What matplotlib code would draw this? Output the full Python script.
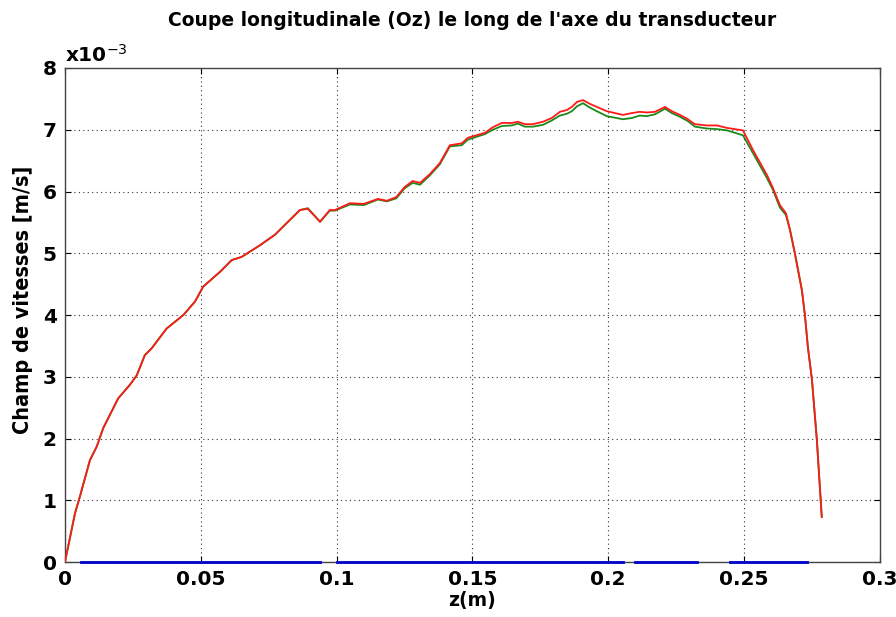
import numpy as np
import matplotlib
matplotlib.use("Agg")
import matplotlib.pyplot as plt

# Data (values in units of 1e-3 m/s)
z = [0, 0.0037, 0.0055, 0.0092, 0.0117, 0.0141, 0.0196, 0.0239, 0.0264, 0.0294,
     0.0319, 0.0374, 0.0436, 0.0479, 0.0509, 0.0571, 0.0614, 0.065, 0.0718,
     0.0773, 0.0828, 0.0865,
     0.0894, 0.0939, 0.0975, 0.0994, 0.1049, 0.110, 0.1152, 0.1185, 0.122, 0.125,
     0.128, 0.1307, 0.1343, 0.138, 0.1417, 0.1461, 0.1483, 0.1546, 0.1575, 0.1608,
     0.1645, 0.1667, 0.1693, 0.1723, 0.176, 0.1792, 0.1822, 0.1848, 0.1866, 0.1885,
     0.1907, 0.1932, 0.1958, 0.1995, 0.2054, 0.2087, 0.2116, 0.2142, 0.2172, 0.2209,
     0.2234, 0.2264, 0.2293, 0.2319, 0.2363, 0.240, 0.2437, 0.2496, 0.2533, 0.2584,
     0.2606, 0.2632, 0.2654, 0.2669, 0.2687, 0.2713, 0.2724, 0.2735, 0.275, 0.276,
     0.2768, 0.2779, 0.2786]

red = [0, 0.79, 1.06, 1.65, 1.87, 2.17, 2.65, 2.87, 3.02, 3.35,
       3.46, 3.78, 4.0, 4.22, 4.46, 4.70, 4.89, 4.94, 5.13,
       5.3, 5.54, 5.7,
       5.72, 5.51, 5.7, 5.7, 5.81, 5.8, 5.88, 5.85, 5.91, 6.07,
       6.17, 6.14, 6.28, 6.46, 6.75, 6.78, 6.87, 6.95, 7.04, 7.11,
       7.11, 7.13, 7.09, 7.09, 7.13, 7.19, 7.29, 7.32, 7.37, 7.45,
       7.48, 7.42, 7.37, 7.30, 7.24, 7.27, 7.29, 7.28, 7.29, 7.37,
       7.30, 7.24, 7.17, 7.09, 7.07, 7.07, 7.03, 6.99, 6.67, 6.27,
       6.06, 5.78, 5.65, 5.38, 5.0, 4.40, 4.0, 3.48, 2.95, 2.41,
       1.98, 1.22, 0.73]

green = [0, 0.79, 1.06, 1.65, 1.87, 2.17, 2.65, 2.87, 3.02, 3.35,
         3.46, 3.78, 4.0, 4.22, 4.46, 4.70, 4.89, 4.94, 5.13,
         5.3, 5.54, 5.7,
         5.73, 5.51, 5.69, 5.69, 5.79, 5.78, 5.87, 5.84, 5.89, 6.05,
         6.14, 6.11, 6.26, 6.44, 6.73, 6.75, 6.84, 6.93, 7.0, 7.06,
         7.07, 7.10, 7.05, 7.05, 7.08, 7.15, 7.23, 7.26, 7.30, 7.38,
         7.43, 7.36, 7.30, 7.22, 7.17, 7.19, 7.23, 7.22, 7.25, 7.34,
         7.27, 7.21, 7.14, 7.05, 7.02, 7.01, 6.99, 6.91, 6.62, 6.22,
         6.03, 5.74, 5.62, 5.38, 5.0, 4.40, 4.0, 3.48, 2.95, 2.41,
         1.98, 1.22, 0.73]

blue_z = [0.006, 0.094, np.nan, 0.1, 0.2054, np.nan, 0.21, 0.2327, np.nan, 0.2448, 0.273]
blue_v = [0, 0, np.nan, 0, 0, np.nan, 0, 0, np.nan, 0, 0]

xticks = [0, 0.05, 0.1, 0.15, 0.2, 0.25, 0.3]
xticklabels = ["0", "0.05", "0.1", "0.15", "0.2", "0.25", "0.3"]
yticks = [0, 1, 2, 3, 4, 5, 6, 7, 8]

assert len(z) == len(red) == len(green)

plt.rcParams['font.family'] = ['DejaVu Sans']
fig = plt.figure(figsize=(8.96, 6.17), dpi=100)
ax = fig.add_axes([0.0725, 0.0891, 0.9095, 0.8007])

ax.plot(z, green, color='#1a8a1a', lw=1.3, zorder=3)
ax.plot(z, red, color='#ff1a1a', lw=1.3, zorder=4)
ax.plot(blue_z, blue_v, color='#0000cc', lw=2.0, zorder=5, clip_on=False)

ax.set_xlim(0, 0.3)
ax.set_ylim(0, 8)
ax.set_xticks(xticks)
ax.set_xticklabels(xticklabels)
ax.set_yticks(yticks)
ax.grid(True, color='#333333', linestyle=(0, (1, 3)), linewidth=0.8)
ax.tick_params(direction='in', top=True, right=True, length=4, labelsize=14.5, pad=6)
for lab in ax.get_xticklabels() + ax.get_yticklabels():
    lab.set_fontweight('bold')
for s in ax.spines.values():
    s.set_color('#444444')
    s.set_linewidth(1.0)

ax.set_xlabel('z(m)', fontsize=13.5, fontweight='bold', labelpad=1)
ax.set_ylabel('Champ de vitesses [m/s]', fontsize=15.5, fontweight='bold',
              fontstretch='condensed')
ax.yaxis.set_label_coords(-0.039, 0.53)
ax.set_title("Coupe longitudinale (Oz) le long de l'axe du transducteur",
             fontsize=13.5, fontweight='bold', pad=30)
fig.text(0.0725, 0.893, r'x10$^{-3}$', fontsize=14.5, fontweight='bold',
         ha='left', va='bottom')

fig.savefig('out.png', dpi=100)
